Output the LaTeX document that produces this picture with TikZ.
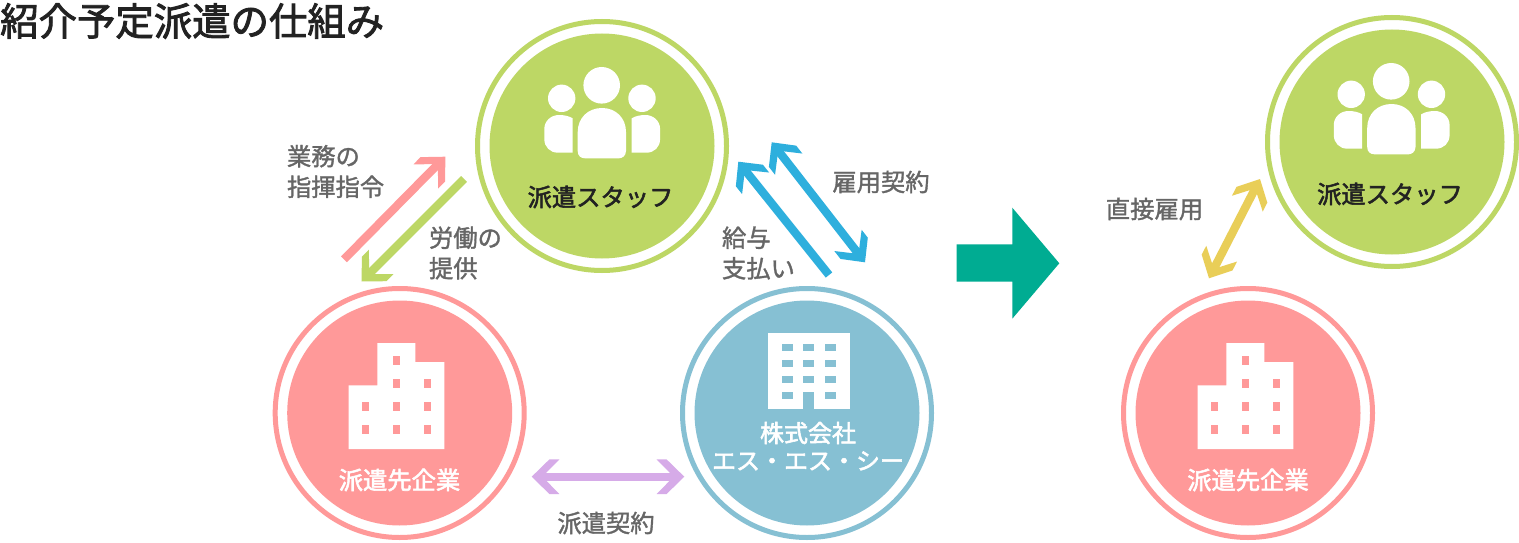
\documentclass[tikz,border=0pt]{standalone}
\usepackage{fontspec}
\setmainfont[FakeBold=1.4]{Noto Sans CJK JP}
\newfontfamily\medfont[FakeBold=2.2]{Noto Sans CJK JP}
\usetikzlibrary{arrows.meta}
\definecolor{cgreen}{HTML}{BDD765}
\definecolor{cpink}{HTML}{FF9999}
\definecolor{cblue}{HTML}{86C0D3}
\definecolor{cpurple}{HTML}{D6ABE8}
\definecolor{csky}{HTML}{2EAFDD}
\definecolor{cyellow}{HTML}{E9CE58}
\definecolor{cteal}{HTML}{00AC92}
\definecolor{cgraytext}{HTML}{666666}
\definecolor{cdark}{HTML}{222222}
\pgfdeclarearrow{
  name=Chev,
  setup code={
    \pgfarrowssettipend{0pt}
    \pgfarrowssetlineend{-13pt}
    \pgfarrowssetbackend{-27.7pt}
    \pgfarrowssetvisualbackend{-13pt}
  },
  drawing code={
    \pgfpathmoveto{\pgfqpoint{0pt}{0pt}}
    \pgfpathlineto{\pgfqpoint{-17.7pt}{17.3pt}}
    \pgfpathlineto{\pgfqpoint{-27.7pt}{17.3pt}}
    \pgfpathlineto{\pgfqpoint{-14.7pt}{4.15pt}}
    \pgfpathlineto{\pgfqpoint{-14.7pt}{-4.15pt}}
    \pgfpathlineto{\pgfqpoint{-27.7pt}{-17.3pt}}
    \pgfpathlineto{\pgfqpoint{-17.7pt}{-17.3pt}}
    \pgfpathclose
    \pgfusepathqfill
  },
  defaults={}
}
\tikzset{
  ring/.style={circle,draw=#1,line width=5pt,fill=white,minimum size=249pt,inner sep=0pt,outer sep=0pt},
  disc/.style={circle,fill=#1,minimum size=225pt,inner sep=0pt,outer sep=0pt},
  conn/.style={line width=8.3pt,#1},
  lab/.style={text=cgraytext,font=\fontsize{24.3}{30.6}\selectfont,inner sep=0pt,outer sep=0pt},
  captext/.style={font=\medfont\fontsize{24.3}{27}\selectfont,inner sep=0pt,outer sep=0pt,align=center},
}
\newcommand{\peopleicon}[2]{%
  \begin{scope}[shift={(#1,#2)}]
    \fill[white] (-0.3,-60.7) circle (18.3);
    \fill[white] (-40.3,-47.7) circle (13.7);
    \fill[white] (40,-47.7) circle (13.7);
    \fill[white] (-24.3,-14) .. controls (-24.3,-28) and (-14,-38) .. (0,-38)
       .. controls (14,-38) and (24,-28) .. (24,-14) -- (24,5)
       .. controls (24,10) and (20,12.3) .. (17,12.3) -- (-17,12.3)
       .. controls (-21,12.3) and (-24.3,10) .. (-24.3,5) -- cycle;
    \fill[white] (-29.3,-27.7) -- (-29.3,6.7) -- (-44,6.7)
       .. controls (-52,6.7) and (-57.7,1) .. (-57.7,-7) -- (-57.7,-17)
       .. controls (-57.7,-25) and (-51,-31) .. (-43,-31)
       .. controls (-38,-31) and (-33,-30) .. (-29.3,-27.7) -- cycle;
    \begin{scope}[xscale=-1,xshift=-0.4pt]
    \fill[white] (-29.3,-27.7) -- (-29.3,6.7) -- (-44,6.7)
       .. controls (-52,6.7) and (-57.7,1) .. (-57.7,-7) -- (-57.7,-17)
       .. controls (-57.7,-25) and (-51,-31) .. (-43,-31)
       .. controls (-38,-31) and (-33,-30) .. (-29.3,-27.7) -- cycle;
    \end{scope}
  \end{scope}}
\newcommand{\clientbuilding}[1]{%
  \begin{scope}[xshift=#1pt]
    \fill[white] (348.7,385.3) -- (377.3,385.3) -- (377.3,343) -- (415.3,343) -- (415.3,362)
       -- (444.3,362) -- (444.3,449) -- (348.7,449) -- cycle;
    \foreach \wx/\wy in {396.3/360.3,396.3/383.3,427.3/383.3,365.7/406.3,396.3/406.3,427.3/406.3,365.7/429.3,396.3/429.3,427.3/429.3}
      \fill[cpink] (\wx-3.65,\wy-4.5) rectangle (\wx+3.65,\wy+4.5);
  \end{scope}}
\begin{document}
\begin{tikzpicture}[x=1pt,y=-1pt]
\path[use as bounding box,fill=white] (0,0) rectangle (1519,543);

% circles
\node[ring=cgreen] (staffring) at (602,146) {};
\node[disc=cgreen] (staff) at (602,146) {};
\node[ring=cpink] (clientring) at (399.7,413) {};
\node[disc=cpink] (client) at (399.7,413) {};
\node[ring=cblue] (sscring) at (807,413) {};
\node[disc=cblue] (ssc) at (807,413) {};
\node[ring=cgreen] (staffringb) at (1392,142) {};
\node[disc=cgreen] (staffb) at (1392,142) {};
\node[ring=cpink] (clientringb) at (1248,413) {};
\node[disc=cpink] (clientb) at (1248,413) {};

% icons
\peopleicon{602}{146}
\peopleicon{1391.5}{142}
\clientbuilding{0}
\clientbuilding{849}
\fill[white] (768,333) rectangle (850,409.3);
\foreach \wy in {343.7,359.7,375.7,391.7}{
  \fill[cblue] (782,\wy) rectangle (792.7,\wy+7.3);
  \fill[cblue] (825,\wy) rectangle (835.7,\wy+7.3);
}
\foreach \wy in {343.7,359.7,375.7}
  \fill[cblue] (803.3,\wy) rectangle (814,\wy+7.3);
\fill[cblue] (803.3,391.7) rectangle (814,409.3);

% circle captions
\node[captext,text=cdark] (t1) at (600.5,197) {派遣スタッフ};
\node[captext,text=cdark] (t2) at (1390,194) {派遣スタッフ};
\node[captext,text=white] (t3) at (399.5,480) {派遣先企業};
\node[captext,text=white] (t4) at (1248,480) {派遣先企業};
\node[captext,text=white,font=\medfont\fontsize{24}{27.6}\selectfont] (t5) at (808,446.2) {株式会社\\エス・エス・シー};

% title
\node[font=\medfont\fontsize{38.4}{42}\selectfont,text=cdark,anchor=west,inner sep=0pt] (title) at (0,21) {紹介予定派遣の仕組み};

% labels
\node[lab,anchor=west,align=left] (l1) at (287,171.5) {業務の\\指揮指令};
\node[lab,anchor=west,align=left] (l2) at (429,253) {労働の\\提供};
\node[lab] (l3) at (881,182) {雇用契約};
\node[lab,anchor=west,align=left] (l4) at (722,253) {給与\\支払い};
\node[lab] (l5) at (606,523) {派遣契約};
\node[lab] (l6) at (1154.5,209) {直接雇用};

% connector ends
\coordinate (pa) at (344,259.3);
\coordinate (pb) at (445.3,156.7);
\coordinate (ga) at (464,179);
\coordinate (gb) at (361.6,281.5);
\coordinate (ba) at (771.7,142.3);
\coordinate (bb) at (865,262.3);
\coordinate (ca) at (829,275);
\coordinate (cb) at (738.3,161.7);
\coordinate (va) at (531.7,476.7);
\coordinate (vb) at (684.3,476.7);
\coordinate (ya) at (1260,179);
\coordinate (yb) at (1209,278.3);

\draw[conn=cpink,-Chev] (pa) -- (pb);
\draw[conn=cgreen,-Chev] (ga) -- (gb);
\draw[conn=csky,Chev-Chev] (ba) -- (bb);
\draw[conn=csky,-Chev] (ca) -- (cb);
\draw[conn=cpurple,Chev-Chev] (va) -- (vb);
\draw[conn=cyellow,Chev-Chev] (ya) -- (yb);

% big arrow
\fill[cteal] (956.7,244.3) -- (1012.3,244.3) -- (1012.3,207.7) -- (1059.3,263.3) -- (1012.3,318.7) -- (1012.3,281.7) -- (956.7,281.7) -- cycle;
\end{tikzpicture}
\end{document}
